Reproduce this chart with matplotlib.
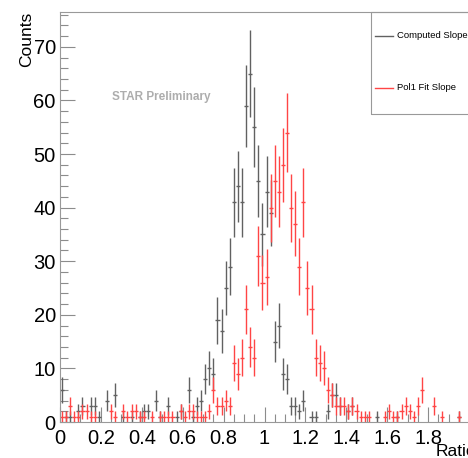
import numpy as np
import matplotlib
matplotlib.use("Agg")
import matplotlib.pyplot as plt
from matplotlib.lines import Line2D
from matplotlib.patches import Rectangle
from matplotlib.ticker import MultipleLocator

plt.rcParams["font.family"] = ["Liberation Sans", "DejaVu Sans"]

# histogram: 100 bins of width 0.02 on [0, 2]
bin_edges = np.linspace(0.0, 2.0, 101)

computed_slope = [
    6, 1, 1, 0, 2, 3, 0, 3, 3, 1,
    0, 4, 0, 5, 0, 1, 0, 1, 0, 1,
    2, 2, 0, 4, 1, 0, 3, 0, 1, 2,
    0, 6, 1, 3, 4, 8, 10, 9, 19, 17,
    25, 29, 41, 44, 41, 59, 65, 55, 45, 35,
    43, 39, 15, 18, 9, 8, 3, 3, 2, 4,
    0, 1, 1, 0, 0, 2, 5, 5, 3, 0,
    2, 3, 0, 0, 0, 0, 0, 1, 0, 0,
    0, 0, 1, 0, 0, 0, 0, 0, 0, 0,
    0, 0, 0, 0, 0, 0, 0, 1, 0, 0,
]

pol1_fit_slope = [
    1, 1, 3, 1, 1, 2, 2, 1, 1, 0,
    0, 0, 2, 1, 0, 2, 1, 2, 2, 1,
    1, 0, 1, 0, 1, 1, 1, 1, 0, 2,
    1, 2, 2, 1, 1, 1, 2, 6, 3, 3,
    4, 3, 11, 9, 12, 21, 14, 12, 31, 26,
    27, 40, 45, 43, 48, 54, 40, 37, 29, 41,
    25, 21, 12, 11, 10, 6, 5, 3, 3, 3,
    2, 3, 2, 1, 1, 1, 0, 0, 0, 1,
    2, 1, 1, 2, 3, 2, 1, 3, 6, 0,
    0, 3, 0, 1, 0, 0, 0, 1, 0, 0,
]

series_labels = ["Computed Slope", "Pol1 Fit Slope"]
series_colors = ["0.38", "#ff4545"]

W, H = 468, 458
fig = plt.figure(figsize=(W / 100, H / 100), dpi=100)
ax = fig.add_axes([60 / W, 1 - 422 / H, 409 / W, 410 / H])

centers = 0.5 * (bin_edges[:-1] + bin_edges[1:])
half = 0.5 * (bin_edges[1] - bin_edges[0])

for counts, color in zip([computed_slope, pol1_fit_slope], series_colors):
    counts = np.asarray(counts, dtype=float)
    keep = counts > 0
    ax.errorbar(
        centers[keep], counts[keep],
        xerr=half, yerr=np.sqrt(counts[keep]),
        fmt="none", ecolor=color, elinewidth=1.0, capsize=0,
    )

ax.set_xlim(0, 2.0)
ax.set_ylim(0, 76.5)

ax.xaxis.set_major_locator(MultipleLocator(0.2))
ax.xaxis.set_minor_locator(MultipleLocator(0.05))
ax.yaxis.set_major_locator(MultipleLocator(10))
ax.yaxis.set_minor_locator(MultipleLocator(2))
# the last label (2) falls outside the cropped picture
ax.xaxis.set_major_formatter(
    plt.FuncFormatter(lambda v, p: "" if v > 1.95 else f"{v:g}"))

ax.tick_params(which="both", direction="in", top=False, right=False,
               color="0.55", width=0.8, labelsize=14.5)
ax.tick_params(which="major", length=11)
ax.tick_params(which="minor", length=6)
ax.tick_params(axis="y", pad=3)
ax.tick_params(axis="x", pad=5)

for side in ["left", "bottom", "top"]:
    ax.spines[side].set_color("0.6")
    ax.spines[side].set_linewidth(0.8)
ax.spines["right"].set_visible(False)

fig.text(27 / W, 1 - 12 / H, "Counts", rotation=90, ha="center", va="top",
         fontsize=12.5)
fig.text(1.0 - 32 / W, 1 - 452 / H, "Ratio", ha="left", va="center",
         fontsize=12.5)

fig.text(112 / W, 1 - 97 / H, "STAR Preliminary", ha="left", va="center",
         fontsize=8.5, fontweight="bold", color="0.68")

# legend box
fig.add_artist(Rectangle((371 / W, 1 - 114 / H), 120 / W, 102 / H,
                         transform=fig.transFigure, fill=False,
                         edgecolor="0.6", linewidth=0.8))
for k, (label, color) in enumerate(zip(series_labels, series_colors)):
    yy = 1 - (36 + 52 * k) / H
    fig.add_artist(Line2D([375 / W, 393 / W], [yy, yy], color=color,
                          linewidth=1.0, transform=fig.transFigure))
    fig.text(397 / W, yy, label, ha="left", va="center", fontsize=6.8)

fig.savefig("out.png", dpi=100)
